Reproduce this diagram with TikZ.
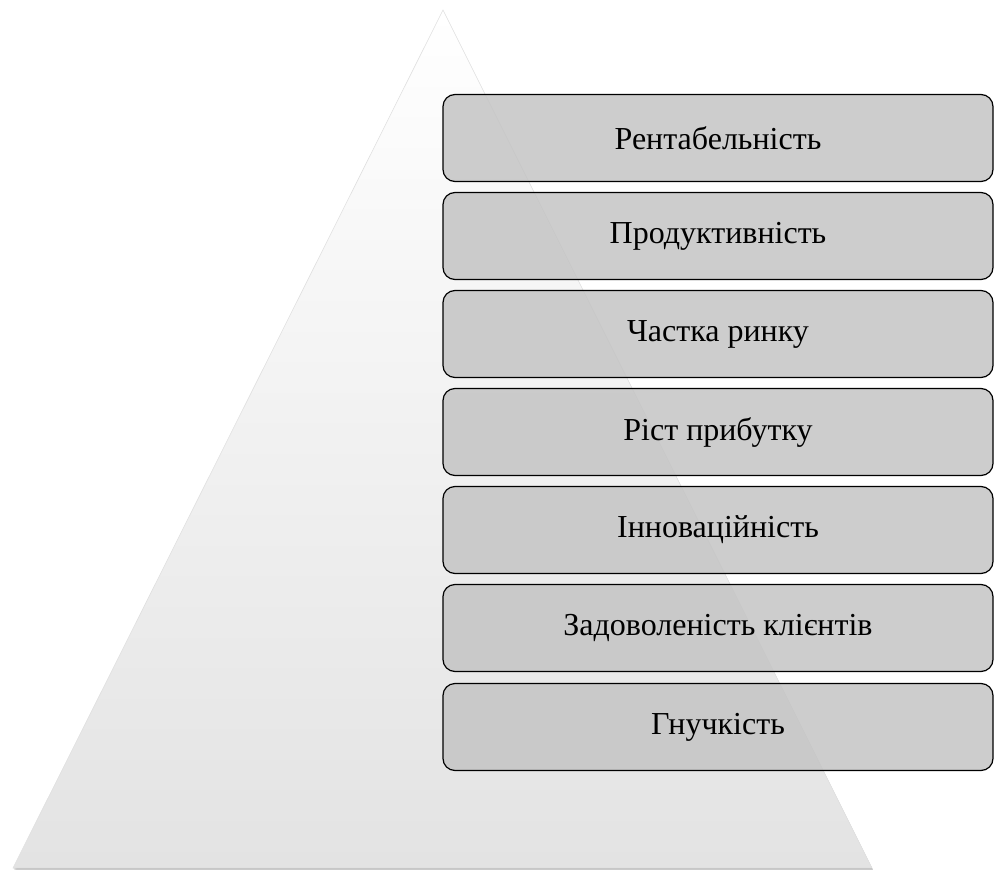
\documentclass[tikz,border=0pt]{standalone}
\usepackage{fontspec}
\setmainfont{Liberation Serif}
\begin{document}
\begin{tikzpicture}[x=1pt,y=-1pt,
  lvl/.style={draw=black, line width=1.2pt, rounded corners=12pt,
    fill=black!23, fill opacity=0.85, text opacity=1,
    minimum width=550pt, minimum height=87pt, inner sep=0pt,
    font=\fontsize{32}{38}\selectfont}]
\useasboundingbox (0,0) rectangle (994,870);
% soft shadow of the pyramid
\foreach \d/\o in {4/0.05,3/0.07,2/0.09,1/0.12}{
  \fill[black, opacity=\o] (443+0.3*\d,10+\d) -- (13+0.5*\d,868+\d) -- (872+0.5*\d,868+\d) -- cycle;
}
% pyramid
\shade[top color=white, bottom color=black!11, draw=black!12, line width=0.6pt]
  (443,10) coordinate (apex) -- (13,868) coordinate (bl) -- (872,868) coordinate (br) -- cycle;
% levels
\node[lvl] (l1) at (718,138) {Рентабельність};
\node[lvl] (l2) at (718,236) {Продуктивність};
\node[lvl] (l3) at (718,334) {Частка ринку};
\node[lvl] (l4) at (718,432) {Ріст прибутку};
\node[lvl] (l5) at (718,530) {Інноваційність};
\node[lvl] (l6) at (718,628) {Задоволеність клієнтів};
\node[lvl] (l7) at (718,727) {Гнучкість};
\end{tikzpicture}
\end{document}
